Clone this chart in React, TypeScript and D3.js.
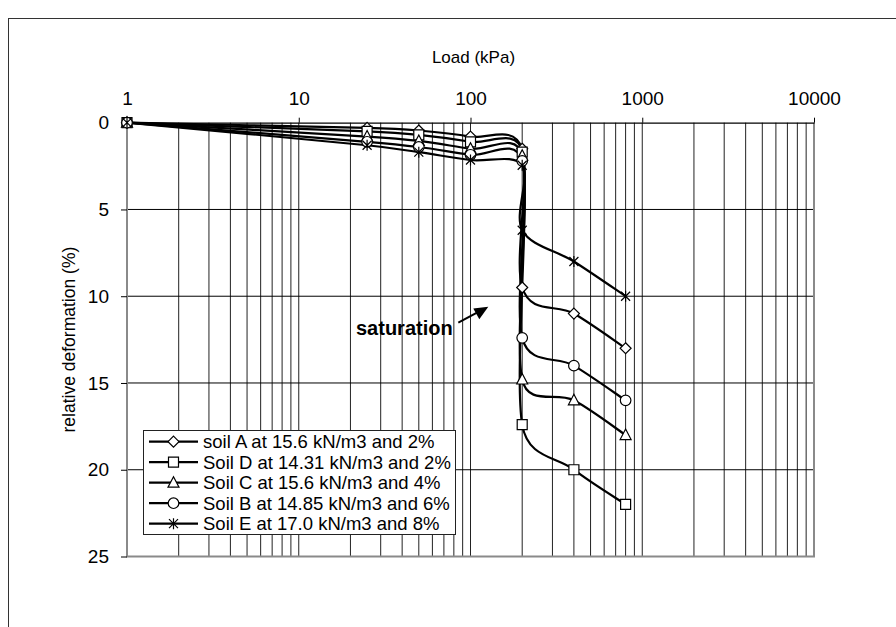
import React, { useEffect, useRef } from 'react';
import * as d3 from 'd3';

const loads = [1, 25, 50, 100, 200, 200, 400, 800];
const soilA = [0, 0.3, 0.45, 0.8, 1.5, 9.5, 11, 13];
const soilD = [0, 0.5, 0.7, 1.1, 1.7, 17.4, 20, 22];
const soilC = [0, 0.8, 1.05, 1.5, 1.9, 14.8, 16, 18];
const soilB = [0, 1.1, 1.4, 1.85, 2.2, 12.4, 14, 16];
const soilE = [0, 1.3, 1.7, 2.15, 2.45, 6.2, 8, 10];
const seriesNames = [
  'soil A at 15.6 kN/m3 and 2%',
  'Soil D at 14.31 kN/m3 and 2%',
  'Soil C at 15.6 kN/m3 and 4%',
  'Soil B at 14.85 kN/m3 and 6%',
  'Soil E at 17.0 kN/m3 and 8%',
];
const seriesValues = [soilA, soilD, soilC, soilB, soilE];
const seriesMarkers = ['diamond', 'square', 'triangle', 'circle', 'star'];
const xTicks = [1, 10, 100, 1000, 10000];
const yTicks = [0, 5, 10, 15, 20, 25];
const xTitle = 'Load (kPa)';
const yTitle = 'relative deformation (%)';
const annotation = 'saturation';

const W = 896;
const H = 627;
const FONT = "Arial, 'Liberation Sans', Helvetica, sans-serif";

function drawMarker(g: any, kind: string) {
  if (kind === 'circle') {
    g.append('circle').attr('r', 5.3).attr('fill', '#fff').attr('stroke', '#000').attr('stroke-width', 1.2);
    return;
  }
  let d = '';
  if (kind === 'diamond') d = 'M0,-5.5L5.5,0L0,5.5L-5.5,0Z';
  if (kind === 'square') d = 'M-5,-5H5V5H-5Z';
  if (kind === 'triangle') d = 'M0,-6L5.5,4.5L-5.5,4.5Z';
  if (kind === 'star') d = 'M-4.5,-4.5L4.5,4.5M-4.5,4.5L4.5,-4.5M0,-5.5L0,5.5';
  g.append('path')
    .attr('d', d)
    .attr('fill', kind === 'star' ? 'none' : '#fff')
    .attr('stroke', '#000')
    .attr('stroke-width', 1.2);
}

// Excel-like smoothed line: Catmull-Rom tangents, arm capped at half the segment length
function excelSmooth(pts: [number, number][]): string {
  const p = d3.path();
  const n = pts.length;
  p.moveTo(pts[0][0], pts[0][1]);
  for (let i = 0; i < n - 1; i++) {
    const P0 = pts[Math.max(0, i - 1)];
    const P1 = pts[i];
    const P2 = pts[i + 1];
    const P3 = pts[Math.min(n - 1, i + 2)];
    const d12 = Math.hypot(P2[0] - P1[0], P2[1] - P1[1]);
    const v1 = [P2[0] - P0[0], P2[1] - P0[1]];
    const l1 = Math.hypot(v1[0], v1[1]);
    const a1 = Math.min(l1 / 6, d12 / 2);
    const c1 = l1 > 0 ? [P1[0] + (v1[0] / l1) * a1, P1[1] + (v1[1] / l1) * a1] : [P1[0], P1[1]];
    const v2 = [P3[0] - P1[0], P3[1] - P1[1]];
    const l2 = Math.hypot(v2[0], v2[1]);
    const a2 = Math.min(l2 / 6, d12 / 2);
    const c2 = l2 > 0 ? [P2[0] - (v2[0] / l2) * a2, P2[1] - (v2[1] / l2) * a2] : [P2[0], P2[1]];
    p.bezierCurveTo(c1[0], c1[1], c2[0], c2[1], P2[0], P2[1]);
  }
  return p.toString();
}

export default function App() {
  const ref = useRef<SVGSVGElement>(null);

  useEffect(() => {
    const svg = d3.select(ref.current);
    svg.selectAll('*').remove();

    const left = 127, right = 814, top = 122.7, bottom = 556.5;
    const x = d3.scaleLog().domain([1, 10000]).range([left, right]);
    const y = d3.scaleLinear().domain([0, 25]).range([top, bottom]);

    svg.append('rect').attr('width', W).attr('height', H).attr('fill', '#fff');
    // outer chart border
    svg.append('rect')
      .attr('x', 8.5).attr('y', 18.5).attr('width', W).attr('height', H)
      .attr('fill', 'none').attr('stroke', '#333').attr('stroke-width', 1);

    // vertical grid lines
    const minor: number[] = [];
    for (let dec = 1; dec < 10000; dec *= 10) {
      for (let m = 1; m <= 9; m++) {
        const v = dec * m;
        if (v > 1) minor.push(v);
      }
    }
    svg.append('g').selectAll('line').data(minor).join('line')
      .attr('x1', (d) => x(d)).attr('x2', (d) => x(d))
      .attr('y1', top).attr('y2', bottom)
      .attr('stroke', '#222').attr('stroke-width', 1);

    // horizontal grid lines
    svg.append('g').selectAll('line').data(yTicks.filter((v) => v > 0 && v < 25)).join('line')
      .attr('x1', left).attr('x2', right)
      .attr('y1', (d) => y(d)).attr('y2', (d) => y(d))
      .attr('stroke', '#000').attr('stroke-width', 1);

    // frame (gray)
    svg.append('path')
      .attr('d', `M${left},${top}V${bottom}H${right}V${top}`)
      .attr('fill', 'none').attr('stroke', '#8a8a8a').attr('stroke-width', 2);

    // top axis
    const xAxis = d3.axisTop(x).tickValues(xTicks).tickFormat(d3.format('d') as any)
      .tickSize(5).tickPadding(12.5).tickSizeOuter(0);
    const gx = svg.append('g').attr('transform', `translate(0,${top})`).call(xAxis as any);
    gx.select('.domain').attr('stroke', '#000').attr('stroke-width', 1.2);
    gx.selectAll('.tick line').attr('stroke', '#000');
    gx.selectAll('text').attr('font-family', FONT).attr('font-size', 19).attr('fill', '#000');

    // left axis
    const yAxis = d3.axisLeft(y).tickValues(yTicks).tickSize(6).tickPadding(12).tickSizeOuter(0);
    const gy = svg.append('g').attr('transform', `translate(${left},0)`).call(yAxis as any);
    gy.select('.domain').remove();
    gy.selectAll('.tick line').attr('stroke', '#000');
    gy.selectAll('text').attr('font-family', FONT).attr('font-size', 19).attr('fill', '#000');

    // titles
    svg.append('text').attr('x', (left + right) / 2 + 3).attr('y', 63)
      .attr('text-anchor', 'middle').attr('font-family', FONT).attr('font-size', 17)
      .text(xTitle);
    svg.append('text').attr('transform', `translate(75,${(top + bottom) / 2}) rotate(-90)`)
      .attr('text-anchor', 'middle').attr('font-family', FONT).attr('font-size', 17.5)
      .text(yTitle);

    // series
    seriesValues.forEach((vals) => {
      const pts = loads.map((l, i) => [x(l), y(vals[i])] as [number, number]);
      svg.append('path').attr('d', excelSmooth(pts))
        .attr('fill', 'none').attr('stroke', '#000').attr('stroke-width', 2.2);
    });
    seriesValues.forEach((vals, si) => {
      loads.forEach((l, i) => {
        const g = svg.append('g').attr('transform', `translate(${x(l)},${y(vals[i])})`);
        drawMarker(g, seriesMarkers[si]);
      });
    });

    // annotation
    svg.append('text').attr('x', 356).attr('y', 335)
      .attr('font-family', FONT).attr('font-size', 20).attr('font-weight', 'bold')
      .text(annotation);
    svg.append('line').attr('x1', 458.3).attr('y1', 322.7).attr('x2', 477).attr('y2', 312.7)
      .attr('stroke', '#000').attr('stroke-width', 2);
    svg.append('path').attr('d', 'M488.3,306.7L473.3,308.6L479.3,319.3Z').attr('fill', '#000');

    // legend
    const lg = svg.append('g');
    lg.append('rect').attr('x', 143.5).attr('y', 430.5).attr('width', 312).attr('height', 104)
      .attr('fill', '#fff').attr('stroke', '#222').attr('stroke-width', 1);
    seriesNames.forEach((name, i) => {
      const cy = 441.7 + i * 20.5;
      lg.append('line').attr('x1', 149).attr('x2', 198).attr('y1', cy).attr('y2', cy)
        .attr('stroke', '#000').attr('stroke-width', 2.2);
      const g = lg.append('g').attr('transform', `translate(173.5,${cy})`);
      drawMarker(g, seriesMarkers[i]);
      lg.append('text').attr('x', 203).attr('y', cy).attr('dy', '0.36em')
        .attr('font-family', FONT).attr('font-size', 18.5).text(name);
    });
  }, []);

  return (
    <svg ref={ref} width={W} height={H}
      style={{ position: 'absolute', left: 0, top: 0, display: 'block' }} />
  );
}
